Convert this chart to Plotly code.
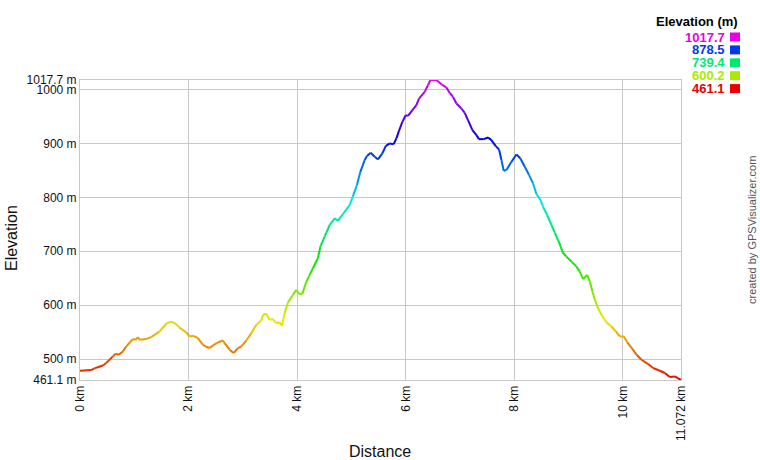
import colorsys
import plotly.graph_objects as go

# ---------------- data ----------------
distance_km = [
    0.000, 0.206, 0.267, 0.420, 0.483, 0.605, 0.654, 0.715, 0.789, 0.852,
    0.973, 1.023, 1.065, 1.097, 1.220, 1.312, 1.465, 1.600, 1.681, 1.742,
    1.834, 1.958, 2.018, 2.092, 2.171, 2.264, 2.313, 2.387, 2.448, 2.540,
    2.632, 2.664, 2.756, 2.829, 2.909, 2.971, 3.064, 3.156, 3.248, 3.340,
    3.370, 3.432, 3.493, 3.554, 3.617, 3.677, 3.720, 3.770, 3.830, 3.923,
    3.985, 4.033, 4.096, 4.170, 4.230, 4.291, 4.383, 4.428, 4.507, 4.599,
    4.691, 4.752, 4.844, 4.968, 5.029, 5.102, 5.165, 5.244, 5.287, 5.355,
    5.429, 5.489, 5.571, 5.631, 5.705, 5.779, 5.829, 5.876, 5.939, 6.000,
    6.042, 6.124, 6.197, 6.245, 6.350, 6.411, 6.455, 6.566, 6.658, 6.751,
    6.811, 6.872, 6.935, 7.027, 7.088, 7.148, 7.230, 7.303, 7.351, 7.438,
    7.517, 7.580, 7.659, 7.720, 7.764, 7.806, 7.856, 7.948, 8.041, 8.114,
    8.194, 8.273, 8.346, 8.409, 8.483, 8.531, 8.605, 8.686, 8.747, 8.807,
    8.857, 8.889, 8.962, 9.054, 9.147, 9.207, 9.268, 9.342, 9.392, 9.441,
    9.484, 9.545, 9.607, 9.700, 9.792, 9.871, 9.945, 10.018, 10.079, 10.179,
    10.253, 10.345, 10.466, 10.558, 10.682, 10.774, 10.866, 10.959, 11.019, 11.072,
]
elevation_m = [
    478.3, 479.6, 482.6, 488.1, 492.6, 504.8, 509.8, 508.0, 514.1, 523.3,
    537.0, 535.7, 540.7, 535.7, 537.0, 540.7, 551.1, 566.7, 569.1, 566.7,
    558.5, 549.3, 541.8, 543.1, 538.9, 526.5, 523.3, 520.4, 525.2, 530.7,
    534.4, 529.6, 517.3, 511.1, 520.4, 523.3, 534.4, 548.1, 563.5, 571.5,
    582.0, 583.9, 572.7, 574.1, 566.7, 567.8, 561.7, 585.2, 604.8, 619.1,
    628.3, 620.9, 620.9, 643.7, 656.1, 668.5, 687.0, 708.5, 727.0, 748.7,
    761.1, 756.7, 769.1, 785.7, 802.4, 822.8, 847.4, 869.1, 876.5, 882.6,
    875.2, 870.4, 881.5, 895.0, 900.0, 898.7, 909.3, 923.3, 940.0, 952.4,
    951.1, 961.7, 970.9, 983.3, 995.6, 1008.0, 1017.7, 1017.7, 1009.8, 1003.7,
    993.7, 986.3, 974.1, 964.8, 956.7, 943.1, 924.6, 915.4, 908.0, 908.0,
    911.1, 906.1, 895.0, 888.9, 869.1, 849.3, 850.6, 865.9, 879.6, 872.2,
    856.7, 841.3, 825.9, 806.1, 795.0, 782.6, 767.2, 748.7, 734.4, 720.9,
    708.5, 698.1, 690.0, 680.7, 671.5, 662.2, 648.1, 656.1, 643.7, 625.2,
    609.8, 594.4, 582.0, 567.8, 560.4, 551.1, 541.9, 541.9, 531.5, 518.5,
    508.0, 498.7, 490.7, 483.3, 478.3, 474.1, 466.7, 467.8, 464.1, 461.1,
]

y_tick_vals = [461.1, 500, 600, 700, 800, 900, 1000, 1017.7]
y_tick_text = ["461.1 m", "500 m", "600 m", "700 m", "800 m", "900 m", "1000 m", "1017.7 m"]
x_tick_vals = [0, 2, 4, 6, 8, 10, 11.072]
x_tick_text = ["0 km", "2 km", "4 km", "6 km", "8 km", "10 km", "11.072 km"]
legend_values = [1017.7, 878.5, 739.4, 600.2, 461.1]
legend_labels = ["1017.7", "878.5", "739.4", "600.2", "461.1"]

ELEV_MIN, ELEV_MAX = 461.1, 1017.7
X_MIN, X_MAX = 0.0, 11.072

# ---------------- styling ----------------
FONT = "Arial, Liberation Sans, sans-serif"
GRID = "#c8c8c8"
W, H = 760, 460
# plot area in page pixels: x 80..681, y 80..380
ML, MT = 80, 80
MR = W - 681
MB = H - 380
PW, PH = W - ML - MR, H - MT - MB


def px_x(px):
    """page pixel x -> paper coordinate"""
    return (px - ML) / PW


def px_y(py):
    """page pixel y -> paper coordinate"""
    return (H - MB - py) / PH


def elev_color(e):
    f = (e - ELEV_MIN) / (ELEV_MAX - ELEV_MIN)
    f = min(max(f, 0.0), 1.0)
    r, g, b = colorsys.hsv_to_rgb(f * 300.0 / 360.0, 1.0, 0.91)
    return f"rgb({round(r * 255)},{round(g * 255)},{round(b * 255)})"


fig = go.Figure()

# Group line segments into colour bins (gradient by elevation)
N_BINS = 80
bins = {}
for i in range(len(distance_km) - 1):
    e_mid = (elevation_m[i] + elevation_m[i + 1]) / 2
    f = (e_mid - ELEV_MIN) / (ELEV_MAX - ELEV_MIN)
    k = min(max(int(round(f * N_BINS)), 0), N_BINS)
    xs, ys = bins.setdefault(k, ([], []))
    xs += [distance_km[i], distance_km[i + 1], None]
    ys += [elevation_m[i], elevation_m[i + 1], None]

for k in sorted(bins):
    xs, ys = bins[k]
    e = ELEV_MIN + k / N_BINS * (ELEV_MAX - ELEV_MIN)
    fig.add_trace(go.Scatter(
        x=xs, y=ys, mode="lines",
        line=dict(color=elev_color(e), width=2),
        hoverinfo="skip", showlegend=False,
    ))

fig.update_xaxes(
    range=[X_MIN, X_MAX], tickvals=x_tick_vals, ticktext=x_tick_text,
    tickangle=-90, showgrid=True, gridcolor=GRID, gridwidth=1,
    showline=True, linecolor=GRID, linewidth=1, mirror=True,
    zeroline=False, ticks="", tickfont=dict(family=FONT, size=12, color="#111"),
)
fig.update_yaxes(
    range=[ELEV_MIN, ELEV_MAX], tickvals=y_tick_vals, ticktext=y_tick_text,
    showgrid=True, gridcolor=GRID, gridwidth=1,
    showline=True, linecolor=GRID, linewidth=1, mirror=True,
    zeroline=False, ticks="", tickfont=dict(family=FONT, size=12, color="#111"),
)

annotations = [
    dict(text="Elevation", x=px_x(12), y=px_y(238), xref="paper", yref="paper",
         textangle=-90, showarrow=False, xanchor="center", yanchor="middle",
         font=dict(family=FONT, size=16, color="#111")),
    dict(text="Distance", x=px_x(380), y=px_y(451), xref="paper", yref="paper",
         showarrow=False, xanchor="center", yanchor="middle",
         font=dict(family=FONT, size=16, color="#111")),
    dict(text="created by GPSVisualizer.com", x=px_x(752), y=px_y(230),
         xref="paper", yref="paper", textangle=-90, showarrow=False,
         xanchor="center", yanchor="middle",
         font=dict(family=FONT, size=11, color="#555")),
    dict(text="<b>Elevation (m)</b>", x=px_x(740), y=px_y(21.5),
         xref="paper", yref="paper", showarrow=False,
         xanchor="right", yanchor="middle",
         font=dict(family=FONT, size=13, color="#000")),
]
shapes = []
for i, (v, lab) in enumerate(zip(legend_values, legend_labels)):
    cy = 37 + i * 12.9
    col = elev_color(v)
    annotations.append(dict(
        text=f"<b>{lab}</b>", x=px_x(727), y=px_y(cy), xref="paper", yref="paper",
        showarrow=False, xanchor="right", yanchor="middle",
        font=dict(family=FONT, size=13, color=col),
    ))
    shapes.append(dict(
        type="rect", xref="paper", yref="paper",
        x0=px_x(730), x1=px_x(740), y0=px_y(cy + 4.5), y1=px_y(cy - 4.5),
        fillcolor=col, line=dict(width=0),
    ))

fig.update_layout(
    width=W, height=H,
    margin=dict(l=ML, r=MR, t=MT, b=MB, autoexpand=False),
    paper_bgcolor="white", plot_bgcolor="white",
    annotations=annotations, shapes=shapes,
    showlegend=False,
)

# remove the default 8px page margin so the figure sits at the page's top-left
fig.write_html(
    "out.html",
    config={"displayModeBar": False, "staticPlot": True},
    post_script="document.body.style.margin='0px';document.body.style.overflow='hidden';",
)
